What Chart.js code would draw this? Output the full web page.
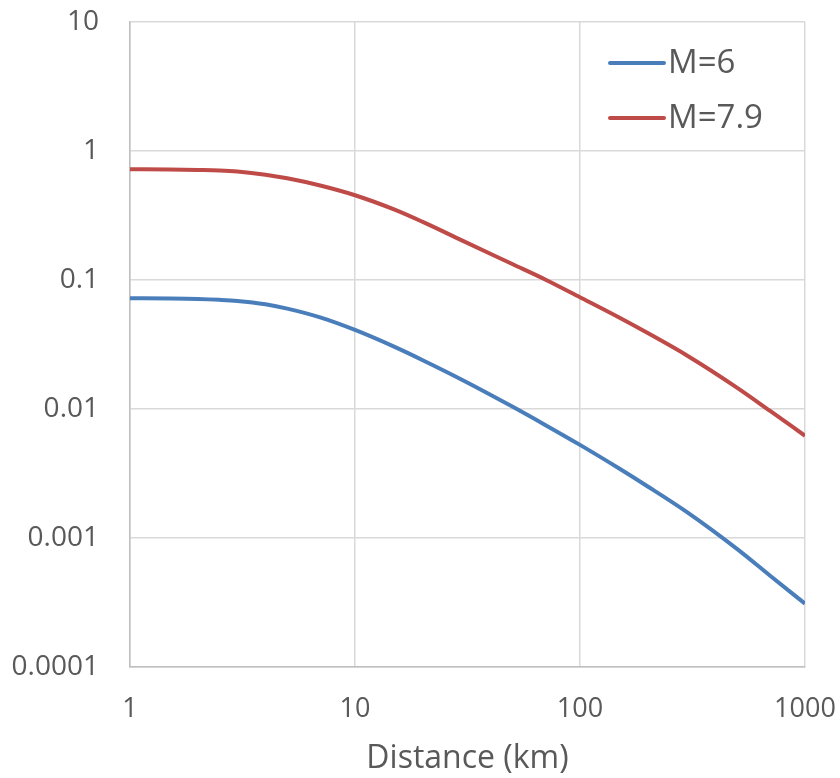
<!DOCTYPE html>
<html>
<head>
<meta charset="utf-8">
<script src="https://cdn.jsdelivr.net/npm/chart.js@4/dist/chart.umd.min.js"></script>
<style>
  html, body { margin: 0; padding: 0; background: #fff; }
  #wrap { width: 840px; height: 778px; }
</style>
</head>
<body>
<div id="wrap"><canvas id="myChart" width="840" height="778"></canvas></div>
<script>
// distances (km) and values
var distances = [1, 1.5, 2, 2.5, 3, 4, 5, 7, 10, 15, 20, 30, 50, 70, 100, 150, 200, 300, 500, 700, 1000];
var m6 = [0.0722, 0.0719, 0.0713, 0.0702, 0.0688, 0.0648, 0.0600, 0.0513, 0.0410, 0.0303, 0.0239, 0.0168, 0.01045, 0.00753, 0.00527, 0.00344, 0.00251, 0.00158, 0.00082, 0.00051, 0.00031];
var m79 = [0.722, 0.719, 0.713, 0.706, 0.693, 0.655, 0.614, 0.540, 0.454, 0.351, 0.282, 0.202, 0.133, 0.101, 0.0735, 0.0510, 0.0388, 0.0259, 0.0146, 0.00966, 0.0062];
var seriesLabels = ['M=6', 'M=7.9'];
var xTicks = [1, 10, 100, 1000];
var yTicks = [0.0001, 0.001, 0.01, 0.1, 1, 10];
var xTitle = 'Distance (km)';

var FONT = '"Open Sans", sans-serif';
var GREY = '#595959';

function toPoints(ys) {
    return distances.map(function (d, i) { return { x: d, y: ys[i] }; });
}

// legend drawn inside the plot, top right
var insideLegend = {
    id: 'insideLegend',
    afterDatasetsDraw: function (chart) {
        var ctx = chart.ctx;
        var area = chart.chartArea;
        ctx.save();
        ctx.font = '33px ' + FONT;
        ctx.textBaseline = 'middle';
        ctx.textAlign = 'left';
        chart.data.datasets.forEach(function (ds, i) {
            var y = area.top + 41 + i * 55;
            var x0 = area.right - 195;
            ctx.strokeStyle = ds.borderColor;
            ctx.lineWidth = 4;
            ctx.lineCap = 'round';
            ctx.beginPath();
            ctx.moveTo(x0, y);
            ctx.lineTo(x0 + 54, y);
            ctx.stroke();
            ctx.fillStyle = GREY;
            ctx.fillText(ds.label, x0 + 58, y + 1);
        });
        ctx.restore();
    }
};

var idChar = document.getElementById('myChart').getContext('2d');
var chart = new Chart(idChar, {
    type: 'line',
    data: {
        datasets: [{
            label: seriesLabels[0],
            data: toPoints(m6),
            borderColor: '#4a7ebb',
            borderWidth: 4,
            pointRadius: 0,
            cubicInterpolationMode: 'monotone'
        }, {
            label: seriesLabels[1],
            data: toPoints(m79),
            borderColor: '#be4b48',
            borderWidth: 4,
            pointRadius: 0,
            cubicInterpolationMode: 'monotone'
        }]
    },
    options: {
        responsive: false,
        animation: false,
        layout: { padding: { top: 22, right: 35, left: 0, bottom: 0 } },
        plugins: {
            legend: { display: false },
            tooltip: { enabled: false }
        },
        scales: {
            x: {
                type: 'logarithmic',
                min: 1,
                max: 1000,
                afterBuildTicks: function (scale) {
                    scale.ticks = xTicks.map(function (v) { return { value: v }; });
                },
                afterFit: function (scale) {
                    scale.height = 111;
                    scale.paddingLeft = 0;
                    scale.paddingRight = 0;
                },
                grid: { color: '#d9d9d9', lineWidth: 1.5, drawTicks: false },
                border: { color: '#bfbfbf', width: 1.5 },
                ticks: {
                    padding: 26,
                    color: GREY,
                    font: { family: FONT, size: 27 },
                    maxRotation: 0,
                    autoSkip: false,
                    callback: function (v) { return String(v); }
                },
                title: {
                    display: true,
                    text: xTitle,
                    color: GREY,
                    font: { family: FONT, size: 32 },
                    padding: { top: 0, bottom: 0 }
                }
            },
            y: {
                type: 'logarithmic',
                min: 0.0001,
                max: 10,
                afterBuildTicks: function (scale) {
                    scale.ticks = yTicks.map(function (v) { return { value: v }; });
                },
                afterFit: function (scale) {
                    scale.width = 130;
                    scale.paddingTop = 0;
                    scale.paddingBottom = 0;
                },
                grid: { color: '#d9d9d9', lineWidth: 1.5, drawTicks: false },
                border: { color: '#bfbfbf', width: 1.5 },
                ticks: {
                    padding: 31,
                    color: GREY,
                    font: { family: FONT, size: 28 },
                    autoSkip: false,
                    callback: function (v) { return String(v); }
                }
            }
        }
    },
    plugins: [insideLegend]
});
</script>
</body>
</html>
